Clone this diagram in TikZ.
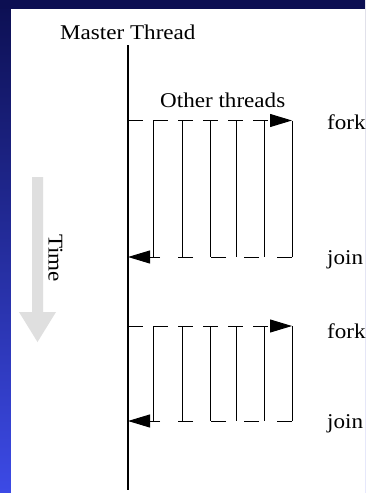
\documentclass[tikz,border=0pt]{standalone}
\usepackage{fontspec}
\setmainfont{Liberation Serif}[FakeStretch=1.1]
\usetikzlibrary{arrows.meta}
\definecolor{navy}{RGB}{12,15,82}
\definecolor{brightblue}{RGB}{60,74,230}
\definecolor{timegray}{RGB}{223,223,223}
\begin{document}
\begin{tikzpicture}[x=1pt,y=-1pt,
  lbl/.style={font=\fontsize{21}{24}\selectfont, inner sep=0pt, anchor=base west},
  thread/.style={line width=1pt},
  forkline/.style={line width=1pt, dash pattern=on 15pt off 10pt, -{Triangle[length=22pt,width=13pt]}},
  joinline/.style={line width=1pt, dash pattern=on 15pt off 18pt, -{Triangle[length=22pt,width=13pt]}}]
\useasboundingbox (0,0) rectangle (365,493);
% background frame
\shade[top color=navy, bottom color=brightblue] (0,0) rectangle (365,493);
\fill[navy] (0,0) rectangle (365,9);
\fill[white] (11,9) rectangle (365,493);
% time arrow
\fill[timegray] (32,177) -- (43,177) -- (43,312) -- (56,312) -- (37.5,342) -- (19,312) -- (32,312) -- cycle;
\node[font=\fontsize{21}{24}\selectfont, rotate=-90, inner sep=0pt] (time) at (55.5,258) {Time};
% labels
\node[lbl] (master) at (60,39) {Master Thread};
\node[lbl] (other) at (160,107) {Other threads};
\node[lbl] (fork1) at (327,129) {fork};
\node[lbl] (join1) at (327,264) {join};
\node[lbl] (fork2) at (327,338) {fork};
\node[lbl] (join2) at (327,428) {join};
% master thread
\coordinate (mtop) at (128,45);
\coordinate (mbot) at (128,490);
\draw[line width=1.1pt] (mtop) -- (mbot);
% groups
\foreach \g/\ty/\by in {1/120.5/257, 2/326/421} {
  \coordinate (fs\g) at (128,\ty);
  \coordinate (fe\g) at (292,\ty);
  \coordinate (js\g) at (292,\by);
  \coordinate (je\g) at (128,\by);
  \foreach \x [count=\i] in {153,182,210,236,264,292} {
    \coordinate (t\g\i a) at (\x,\ty);
    \coordinate (t\g\i b) at (\x,\by);
    \draw[thread] (t\g\i a) -- (t\g\i b);
  }
  \draw[forkline] (fs\g) -- (fe\g);
  \draw[joinline] (js\g) -- (je\g);
}
\end{tikzpicture}
\end{document}
